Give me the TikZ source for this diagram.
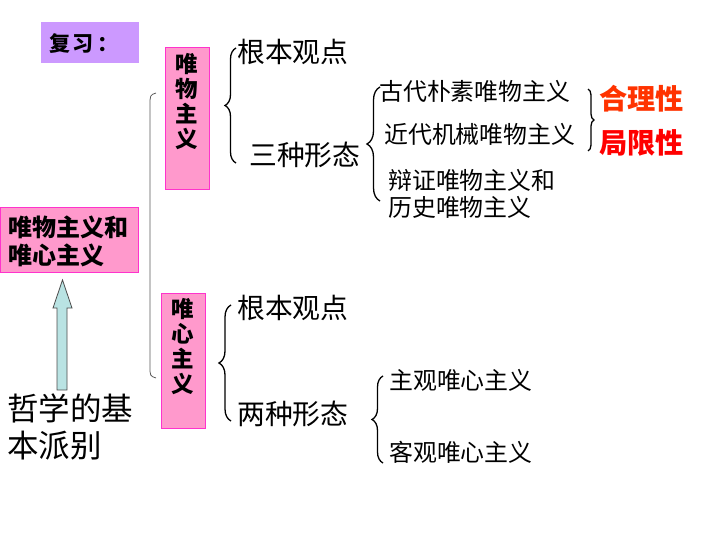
\documentclass[tikz,border=0pt]{standalone}
\usepackage{fontspec}
\setmainfont{Noto Sans CJK SC}
\usetikzlibrary{decorations.pathreplacing}
\definecolor{pinkfill}{HTML}{FF99CC}
\definecolor{pinkline}{HTML}{FF33CC}
\definecolor{lilac}{HTML}{CC99FF}
\definecolor{arrowfill}{HTML}{B9E3E3}
\definecolor{redA}{HTML}{FF3300}
\definecolor{redB}{HTML}{FF0000}
\begin{document}
\begin{tikzpicture}[x=1pt,y=-1pt,
  pinkbox/.style={fill=pinkfill,draw=pinkline,line width=1pt,inner sep=0},
  vtext/.style={inner sep=0,align=center,font=\fontsize{22.5}{25}\selectfont\bfseries},
  bigtxt/.style={inner sep=0,anchor=west,font=\fontsize{27.8}{28}\selectfont},
  midtxt/.style={inner sep=0,anchor=west,font=\fontsize{23.9}{27.5}\selectfont},
  redtxt/.style={inner sep=0,anchor=west,font=\fontsize{28.2}{28}\selectfont\bfseries},
  brc/.style={decorate,decoration={brace,amplitude=#1},line width=1.3pt}]
\useasboundingbox (0,0) rectangle (720,540);

% review label
\node[fill=lilac,minimum width=98pt,minimum height=41pt,inner sep=0] (rev) at (90,42.5) {};
\node[inner sep=0,anchor=west,font=\fontsize{21}{21}\selectfont\bfseries] (revt) at (49,44) {复\hspace{2pt}习\hspace{4pt}：};

% main box
\node[pinkbox,minimum width=138pt,minimum height=65pt] (main) at (69,240) {};
\node[inner sep=0,anchor=west,align=left,font=\fontsize{24}{28}\selectfont\bfseries] (maint) at (8,241) {唯物主义和\\唯心主义};

% arrow
\node[inner sep=0,anchor=west,align=left,font=\fontsize{31.5}{37}\selectfont] (zx) at (7,427) {哲学的基\\本派别};
\draw[fill=arrowfill,draw=black!70,line width=0.8pt] (57,390) -- (57,308) -- (53,308) -- (62.5,280) -- (72,308) -- (67,308) -- (67,390) -- cycle;

% thin bracket
\draw[black!65,line width=0.8pt] (156,93) .. controls (150,95) .. (150,106) -- (150,366) .. controls (150,376) .. (156,378);

% materialism
\node[pinkbox,minimum width=44pt,minimum height=142pt] (wu) at (187,119) {};
\node[vtext] (wut) at (187,102) {唯\\物\\主\\义};
\node[pinkbox,minimum width=44pt,minimum height=135pt] (xin) at (183,360.5) {};
\node[vtext] (xint) at (183,347) {唯\\心\\主\\义};

\draw[brc=11pt] (236,163) -- (236,48);
\node[bigtxt] (gb1) at (237,52) {根本观点};
\node[bigtxt] (sz) at (249,155) {三种形态};

\draw[brc=13pt] (380,201) -- (380,87);
\node[midtxt] (g1) at (379,91) {古代朴素唯物主义};
\node[midtxt] (g2) at (384,134) {近代机械唯物主义};
\node[midtxt,align=left] (g3) at (388,194) {辩证唯物主义和\\历史唯物主义};

\draw[brc=6pt] (588,89) -- (588,151);
\node[redtxt,text=redA] (hl) at (599,99) {合理性};
\node[redtxt,text=redB] (jx) at (599,143) {局限性};

% idealism
\draw[brc=12pt] (231,421) -- (231,305);
\node[bigtxt] (gb2) at (237,308) {根本观点};
\node[bigtxt] (lz) at (237,414) {两种形态};

\draw[brc=11pt] (383,463) -- (383,376);
\node[midtxt] (zg) at (389,380) {主观唯心主义};
\node[midtxt] (kg) at (389,452) {客观唯心主义};
\end{tikzpicture}
\end{document}
